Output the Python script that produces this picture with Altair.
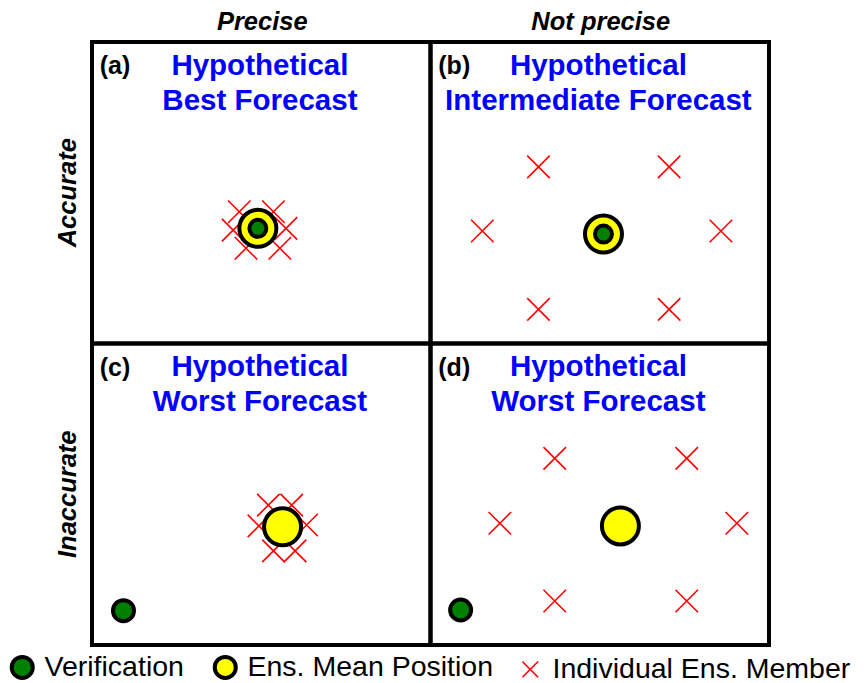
import altair as alt
import pandas as pd

FONT = "Liberation Sans"

# ---------------- data ----------------
kinds = ["Verification", "Ens. Mean Position", "Individual Ens. Member"]

panel_labels = ["(a)", "(b)", "(c)", "(d)"]
panel_col = [0, 1, 0, 1]
panel_row = [0, 0, 1, 1]
title_line1 = ["Hypothetical", "Hypothetical", "Hypothetical", "Hypothetical"]
title_line2 = ["Best Forecast", "Intermediate Forecast", "Worst Forecast", "Worst Forecast"]

col_headers = ["Precise", "Not precise"]
row_headers = ["Accurate", "Inaccurate"]

# panel-local coordinates: u left->right 0..100, v top->bottom 0..100
member_panel = [0] * 6 + [1] * 6 + [2] * 6 + [3] * 6
member_u = [43.5, 53.6, 41.7, 57.3, 45.5, 55.5,
            31.9, 70.5, 15.3, 85.8, 31.9, 70.5,
            52.1, 59.0, 49.3, 63.4, 53.6, 60.0,
            36.7, 75.7, 20.5, 90.5, 36.7, 75.7]
member_v = [56.3, 56.3, 62.4, 61.8, 68.4, 68.4,
            41.4, 41.4, 62.7, 62.7, 88.7, 88.7,
            53.6, 53.6, 60.5, 60.2, 68.8, 68.8,
            38.1, 38.1, 59.6, 59.6, 85.4, 85.4]
mean_u = [49.0, 51.1, 56.3, 56.1]
mean_v = [61.8, 63.7, 60.8, 60.5]
verif_u = [49.0, 51.1, 9.3, 8.9]
verif_v = [61.8, 63.7, 88.6, 88.4]

# ---------------- tables ----------------
rows = []
for p, u, v in zip(member_panel, member_u, member_v):
    rows.append(dict(col=panel_col[p], row=panel_row[p], u=u, v=v, kind=kinds[2]))
for p in range(4):
    rows.append(dict(col=panel_col[p], row=panel_row[p], u=mean_u[p], v=mean_v[p], kind=kinds[1]))
for p in range(4):
    rows.append(dict(col=panel_col[p], row=panel_row[p], u=verif_u[p], v=verif_v[p], kind=kinds[0]))
points = pd.DataFrame(rows)

panels = pd.DataFrame(dict(label=panel_labels, col=panel_col, row=panel_row,
                           t1=title_line1, t2=title_line2))
cols_df = pd.DataFrame(dict(text=col_headers, col=[0, 1]))
rows_df = pd.DataFrame(dict(text=row_headers, row=[0, 1]))

# ---------------- scales ----------------
xs = alt.Scale(domain=[0, 200], nice=False, zero=False)
ys = alt.Scale(domain=[0, 200], nice=False, zero=False, reverse=True)

XPATH = "M-0.75,-0.75L0.75,0.75M-0.75,0.75L0.75,-0.75"

legend = alt.Legend(
    title=None, orient="none", legendX=-84, legendY=611, direction="horizontal",
    symbolSize=441, labelFont=FONT, labelFontSize=28.5, labelColor="black",
    labelLimit=600, labelOffset=8, columnPadding=22, padding=0,
)

frames = alt.Chart(panels).transform_calculate(
    x0="datum.col * 100", x1="datum.col * 100 + 100",
    y0="datum.row * 100", y1="datum.row * 100 + 100",
).mark_rect(filled=False, stroke="black", strokeWidth=4).encode(
    x=alt.X("x0:Q", scale=xs, axis=None), x2="x1:Q",
    y=alt.Y("y0:Q", scale=ys, axis=None), y2="y1:Q",
)

pts = alt.Chart(points).transform_calculate(
    gx="datum.col * 100 + datum.u",
    gy="datum.row * 100 + datum.v",
    sz="datum.kind == 'Individual Ens. Member' ? 900 : (datum.kind == 'Ens. Mean Position' ? 1369 : (datum.row == 0 ? 289 : 441))",
).mark_point(filled=True, opacity=1).encode(
    x=alt.X("gx:Q", scale=xs, axis=None),
    y=alt.Y("gy:Q", scale=ys, axis=None),
    fill=alt.Fill("kind:N", scale=alt.Scale(type="ordinal", domain=kinds, range=["#008000", "#ffff00", "#ff0000"]), legend=legend),
    stroke=alt.Stroke("kind:N", scale=alt.Scale(type="ordinal", domain=kinds, range=["#000000", "#000000", "#ff0000"]), legend=legend),
    shape=alt.Shape("kind:N", scale=alt.Scale(type="ordinal", domain=kinds, range=["circle", "circle", XPATH]), legend=legend),
    strokeWidth=alt.StrokeWidth("kind:N", scale=alt.Scale(type="ordinal", domain=kinds, range=[4, 4, 1.6]), legend=legend),
    size=alt.Size("sz:Q", scale=None, legend=None),
)

letters = alt.Chart(panels).transform_calculate(
    gx="datum.col * 100 + 2.3", gy="datum.row * 100 + 10.7"
).mark_text(font=FONT, fontSize=25, fontWeight="bold", color="black",
            align="left", baseline="alphabetic").encode(
    x=alt.X("gx:Q", scale=xs, axis=None), y=alt.Y("gy:Q", scale=ys, axis=None), text="label:N")

t1 = alt.Chart(panels).transform_calculate(
    gx="datum.col * 100 + 49.6", gy="datum.row * 100 + 10.9"
).mark_text(font=FONT, fontSize=29.5, fontWeight="bold", color="#0000ff",
            align="center", baseline="alphabetic").encode(
    x=alt.X("gx:Q", scale=xs, axis=None), y=alt.Y("gy:Q", scale=ys, axis=None), text="t1:N")

t2 = alt.Chart(panels).transform_calculate(
    gx="datum.col * 100 + 49.6", gy="datum.row * 100 + 22.5"
).mark_text(font=FONT, fontSize=29.5, fontWeight="bold", color="#0000ff",
            align="center", baseline="alphabetic").encode(
    x=alt.X("gx:Q", scale=xs, axis=None), y=alt.Y("gy:Q", scale=ys, axis=None), text="t2:N")

colh = alt.Chart(cols_df).transform_calculate(
    gx="datum.col * 100 + 50.3", gy="-4.0"
).mark_text(font=FONT, fontSize=25.5, fontWeight="bold", fontStyle="italic", color="black",
            align="center", baseline="alphabetic").encode(
    x=alt.X("gx:Q", scale=xs, axis=None), y=alt.Y("gy:Q", scale=ys, axis=None), text="text:N")

rowh = alt.Chart(rows_df).transform_calculate(
    gx="-7.1", gy="datum.row * 100 + 50"
).mark_text(font=FONT, fontSize=25.5, fontWeight="bold", fontStyle="italic", color="black",
            align="center", baseline="middle", angle=270).encode(
    x=alt.X("gx:Q", scale=xs, axis=None), y=alt.Y("gy:Q", scale=ys, axis=None), text="text:N")

chart = alt.layer(frames, pts, letters, t1, t2, colh, rowh).properties(
    width=677, height=603,
    autosize=alt.AutoSizeParams(type="none"),
    padding={"left": 84, "top": 34, "right": 89, "bottom": 38},
).configure_view(strokeWidth=0)

chart.save("out.html", embed_options={"renderer": "svg", "actions": False})
